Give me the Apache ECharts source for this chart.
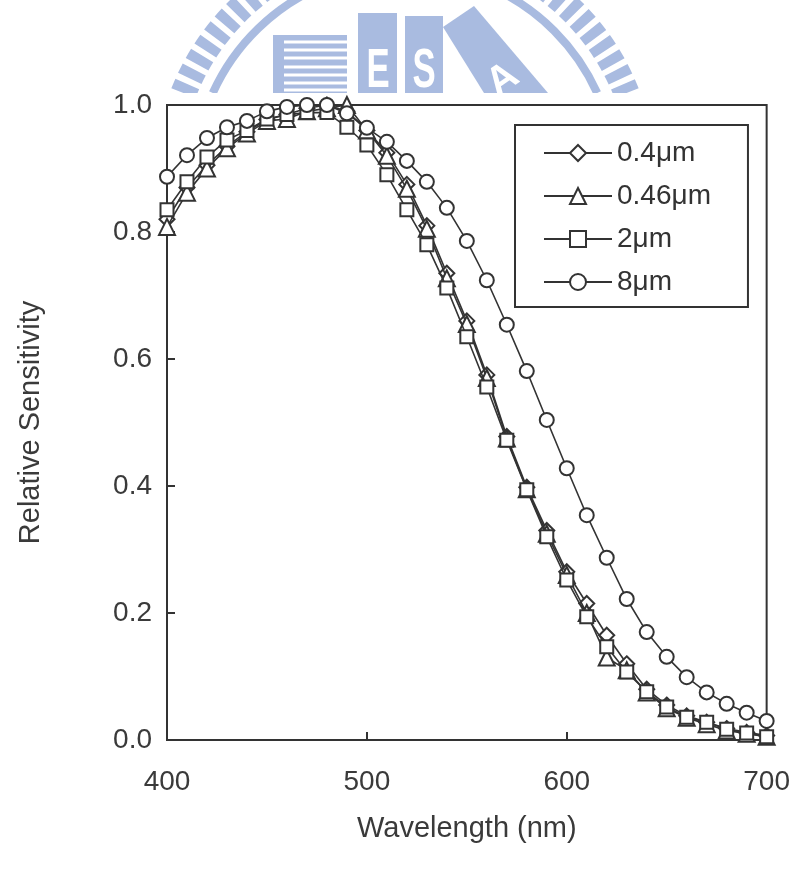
<!DOCTYPE html>
<html><head><meta charset="utf-8">
<script src="https://cdn.jsdelivr.net/npm/echarts@6/dist/echarts.min.js"></script>
<style>html,body{margin:0;padding:0;background:#fff}#c{width:793px;height:870px}</style>
</head><body><div id="c"></div>
<script>
const wavelengths = [400,410,420,430,440,450,460,470,480,490,500,510,520,530,540,550,560,570,580,590,600,610,620,630,640,650,660,670,680,690,700];
const sens04  = [0.820,0.870,0.905,0.935,0.958,0.977,0.985,0.995,1.000,0.990,0.960,0.925,0.875,0.810,0.735,0.660,0.575,0.478,0.398,0.330,0.265,0.215,0.165,0.120,0.080,0.055,0.038,0.028,0.018,0.012,0.007];
const sens046 = [0.808,0.862,0.900,0.932,0.955,0.975,0.978,0.990,0.995,1.000,0.960,0.920,0.868,0.805,0.727,0.655,0.570,0.475,0.395,0.325,0.260,0.200,0.130,0.110,0.075,0.050,0.035,0.025,0.015,0.010,0.005];
const sens2   = [0.835,0.879,0.918,0.945,0.960,0.978,0.985,0.988,0.988,0.965,0.937,0.890,0.835,0.780,0.712,0.635,0.556,0.472,0.394,0.320,0.252,0.194,0.147,0.107,0.076,0.052,0.036,0.028,0.017,0.011,0.005];
const sens8   = [0.887,0.921,0.948,0.965,0.975,0.990,0.997,1.000,1.000,0.987,0.964,0.942,0.912,0.879,0.838,0.786,0.724,0.654,0.581,0.504,0.428,0.354,0.287,0.222,0.170,0.131,0.099,0.075,0.057,0.043,0.030];
const seriesNames = ['0.4μm','0.46μm','2μm','8μm'];
const xTicks = [400,500,600,700];
const yTicks = [0,0.2,0.4,0.6,0.8,1.0];

const FONT = '"Liberation Sans", Arial, Helvetica, sans-serif';
const INK = '#333';
const TXT = '#3a3a3a';
const WM = '#a9bbe0';

const allData = [sens04, sens046, sens2, sens8];
const symbols = ['emptyDiamond','emptyTriangle','emptyRect','emptyCircle'];
const sizes = [15, 16, 13, 14];

const series = seriesNames.map((n, i) => ({
  name: n, type: 'line',
  data: wavelengths.map((w, j) => [w, allData[i][j]]),
  symbol: symbols[i], symbolSize: sizes[i], showAllSymbol: true,
  clip: false,
  lineStyle: {color: INK, width: 1.6},
  itemStyle: {color: INK, borderColor: INK, borderWidth: 1.8},
  emphasis: {disabled: true},
  z: 3 + i
}));

const chart = echarts.init(document.getElementById('c'), null, {renderer: 'canvas'});
chart.setOption({
  animation: false,
  backgroundColor: '#fff',
  grid: {left: 167, right: 26, top: 105, bottom: 130, show: true, borderColor: INK, borderWidth: 2},
  xAxis: {
    type: 'value', min: xTicks[0], max: xTicks[xTicks.length-1], interval: 100,
    name: 'Wavelength (nm)', nameLocation: 'middle', nameGap: 74,
    nameTextStyle: {fontSize: 29, color: TXT, fontFamily: FONT},
    axisLine: {show: true, lineStyle: {color: INK, width: 2}},
    axisTick: {show: true, inside: true, length: 8, lineStyle: {color: INK, width: 2}},
    axisLabel: {fontSize: 28, color: TXT, fontFamily: FONT, margin: 28},
    splitLine: {show: false}
  },
  yAxis: {
    type: 'value', min: yTicks[0], max: yTicks[yTicks.length-1], interval: 0.2,
    name: 'Relative Sensitivity', nameLocation: 'middle', nameGap: 122, nameRotate: 90,
    nameTextStyle: {fontSize: 29, color: TXT, fontFamily: FONT},
    axisLine: {show: true, lineStyle: {color: INK, width: 2}},
    axisTick: {show: true, inside: true, length: 8, lineStyle: {color: INK, width: 2}},
    axisLabel: {fontSize: 28, color: TXT, fontFamily: FONT, margin: 15, formatter: v => v.toFixed(1)},
    splitLine: {show: false}
  },
  legend: {
    orient: 'vertical', left: 515, top: 125,
    data: seriesNames, selectedMode: false,
    itemWidth: 68, itemHeight: 20, itemGap: 15,
    padding: [14, 37, 11, 28],
    borderColor: INK, borderWidth: 2, backgroundColor: '#fff',
    textStyle: {fontSize: 28, color: '#333', fontFamily: FONT}
  },
  graphic: [
    {type: 'arc', shape: {cx: 405, cy: 180, r: 238, startAngle: Math.PI + 0.374, endAngle: 2*Math.PI - 0.374, clockwise: true},
     style: {stroke: WM, lineWidth: 26, fill: null, lineDash: [10, 6]}, silent: true, z: -10},
    {type: 'arc', shape: {cx: 405, cy: 180, r: 211, startAngle: Math.PI + 0.425, endAngle: 2*Math.PI - 0.425, clockwise: true},
     style: {stroke: WM, lineWidth: 8, fill: null}, silent: true, z: -10},
    {type: 'rect', shape: {x: 273, y: 35, width: 74, height: 58}, style: {fill: WM}, silent: true, z: -10},
    {type: 'group', silent: true, z: -9, children: [42, 50, 58, 67, 75, 83, 90].map(y => ({
      type: 'rect', shape: {x: 284, y: y - 1.5, width: 63, height: 3}, style: {fill: '#fff'}
    }))},
    {type: 'rect', shape: {x: 358, y: 13, width: 39, height: 80}, style: {fill: WM}, silent: true, z: -10},
    {type: 'rect', shape: {x: 405, y: 16, width: 38, height: 77}, style: {fill: WM}, silent: true, z: -10},
    {type: 'polygon', shape: {points: [[443, 27], [474, 6], [548, 93], [484, 93]]}, style: {fill: WM}, silent: true, z: -10},
    {type: 'text', x: 378, y: 72, scaleX: 0.62, silent: true, z: -9,
     style: {text: 'E', fill: '#fff', font: 'bold 56px ' + FONT, textAlign: 'center', textVerticalAlign: 'middle'}},
    {type: 'text', x: 424, y: 72, scaleX: 0.62, silent: true, z: -9,
     style: {text: 'S', fill: '#fff', font: 'bold 56px ' + FONT, textAlign: 'center', textVerticalAlign: 'middle'}},
    {type: 'text', x: 503, y: 80, rotation: 0.6, silent: true, z: -9,
     style: {text: 'A', fill: '#fff', font: 'bold 40px ' + FONT, textAlign: 'center', textVerticalAlign: 'middle'}},
    {type: 'rect', shape: {x: 100, y: 93, width: 693, height: 9}, style: {fill: '#fff'}, silent: true, z: -8}
  ],
  series: series
});
</script></body></html>
